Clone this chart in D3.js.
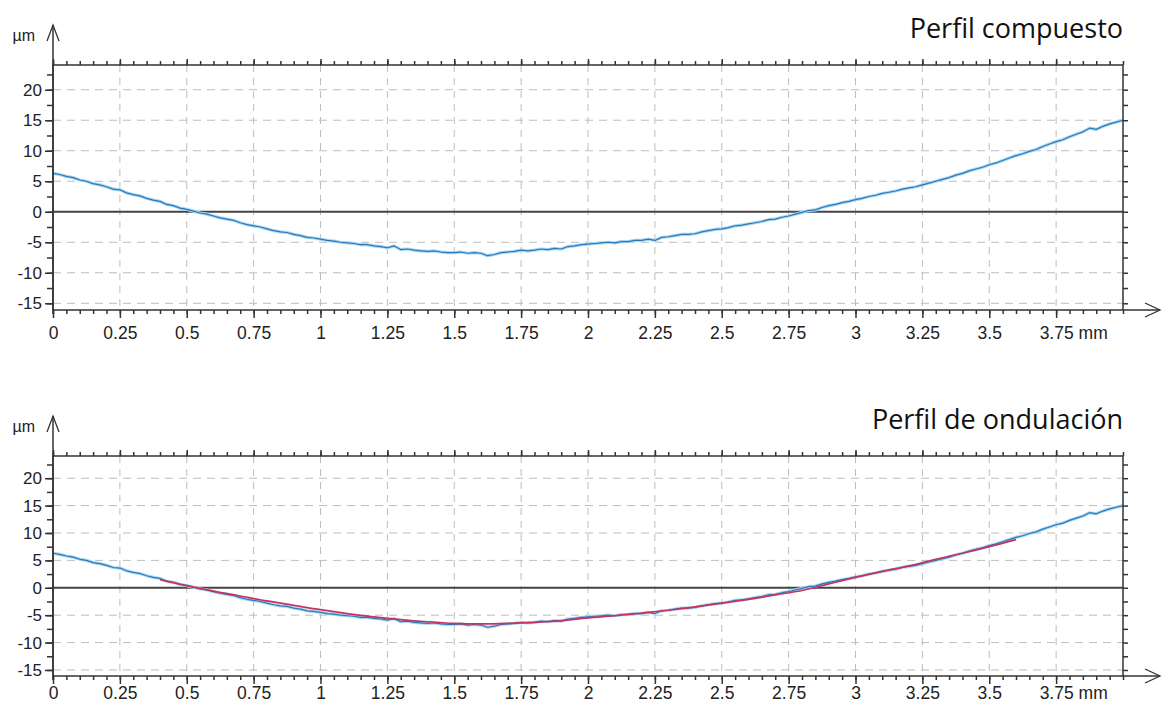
<!DOCTYPE html>
<html>
<head>
<meta charset="utf-8">
<script src="https://cdn.jsdelivr.net/npm/d3@7/dist/d3.min.js"></script>
<style>
  body { margin: 0; background: #fff; }
  svg text { font-family: "Liberation Sans", Arial, sans-serif; fill: #222; }
  svg .title { font-family: "Open Sans", sans-serif; fill: #111; }
</style>
</head>
<body>
<svg id="chart" width="1163" height="705"></svg>
<script>
// profile sampled every 0.025 mm, in µm
var xStep = 0.025;
var profile = [
  6.3, 6.1, 5.8, 5.6, 5.2, 5.0, 4.6, 4.4, 4.1, 3.7,
  3.6, 3.1, 2.8, 2.6, 2.2, 1.9, 1.7, 1.2, 1.0, 0.6,
  0.4, 0.1, -0.2, -0.4, -0.7, -1.0, -1.2, -1.4, -1.8, -2.1,
  -2.3, -2.5, -2.8, -3.1, -3.3, -3.4, -3.7, -3.9, -4.2, -4.3,
  -4.5, -4.7, -4.8, -5.0, -5.1, -5.2, -5.4, -5.4, -5.6, -5.7,
  -5.9, -5.6, -6.2, -6.1, -6.3, -6.4, -6.5, -6.4, -6.6, -6.7,
  -6.7, -6.6, -6.8, -6.7, -6.8, -7.2, -7.0, -6.7, -6.6, -6.5,
  -6.3, -6.4, -6.3, -6.1, -6.2, -6.0, -6.1, -5.7, -5.6, -5.4,
  -5.3, -5.2, -5.1, -5.0, -5.1, -4.9, -4.9, -4.7, -4.7, -4.5,
  -4.7, -4.2, -4.1, -3.9, -3.7, -3.7, -3.6, -3.3, -3.1, -2.9,
  -2.8, -2.6, -2.3, -2.2, -2.0, -1.8, -1.6, -1.3, -1.2, -0.9,
  -0.7, -0.4, -0.1, 0.2, 0.3, 0.7, 1.0, 1.2, 1.5, 1.7,
  2.0, 2.2, 2.5, 2.7, 3.0, 3.2, 3.4, 3.7, 3.9, 4.1,
  4.4, 4.7, 5.0, 5.3, 5.6, 6.0, 6.3, 6.7, 7.0, 7.3,
  7.7, 8.0, 8.4, 8.8, 9.2, 9.5, 9.9, 10.2, 10.7, 11.1,
  11.5, 11.8, 12.3, 12.7, 13.1, 13.7, 13.5, 14.0, 14.4, 14.7,
  15.0
];

// waviness line, every 0.1 mm from 0.4 mm
var waveStart = 0.4;
var waveStep = 0.1;
var waviness = [
  1.5, 0.4, -0.6, -1.5, -2.4, -3.2, -4.0, -4.7, -5.3, -5.8,
  -6.2, -6.5, -6.6, -6.5, -6.3, -6.0, -5.5, -5.1, -4.6, -4.1,
  -3.5, -2.8, -2.1, -1.3, -0.5, 0.7, 1.9, 3.0, 4.0, 5.2,
  6.3, 7.5, 8.8
];

var xTicks = [0, 0.25, 0.5, 0.75, 1, 1.25, 1.5, 1.75, 2, 2.25, 2.5, 2.75, 3, 3.25, 3.5, 3.75];
var yTicks = [-15, -10, -5, 0, 5, 10, 15, 20];
var titles = ["Perfil compuesto", "Perfil de ondulación"];

var svg = d3.select("#chart");
var left = 53, right = 1123;

var x = d3.scaleLinear().domain([0, 4]).range([left, right]);

function createPanel(idx, top, bottom) {
  var y = d3.scaleLinear().domain([-16.1, 24.05]).range([bottom, top]);
  var g = svg.append("g").classed("panel", true);

  // grid
  g.selectAll(".vgrid").data(xTicks.slice(1)).enter().append("line")
    .attr("x1", d => x(d)).attr("x2", d => x(d))
    .attr("y1", top).attr("y2", bottom)
    .attr("stroke", "#bdbdbd").attr("stroke-width", 1)
    .attr("stroke-dasharray", "7,6");
  g.selectAll(".hgrid").data(yTicks.filter(d => d !== 0)).enter().append("line")
    .attr("x1", left).attr("x2", right)
    .attr("y1", d => y(d)).attr("y2", d => y(d))
    .attr("stroke", "#bdbdbd").attr("stroke-width", 1)
    .attr("stroke-dasharray", "8,6");

  // zero line
  g.append("line")
    .attr("x1", left).attr("x2", right)
    .attr("y1", y(0)).attr("y2", y(0))
    .attr("stroke", "#444").attr("stroke-width", 2);

  // clip for the traces
  var clipId = "clip" + idx;
  g.append("clipPath").attr("id", clipId).append("rect")
    .attr("x", left).attr("y", top).attr("width", right - left).attr("height", bottom - top);

  var line = d3.line().x((d, i) => x(i * xStep)).y(d => y(d));
  var traces = g.append("g").attr("clip-path", "url(#" + clipId + ")");
  traces.append("path").datum(profile)
    .attr("fill", "none").attr("stroke", "#a8d8f2").attr("stroke-width", 3.2)
    .attr("stroke-linejoin", "round").attr("d", line);
  traces.append("path").datum(profile)
    .attr("fill", "none").attr("stroke", "#2b78bd").attr("stroke-width", 1.2)
    .attr("stroke-linejoin", "round").attr("d", line);

  if (idx === 1) {
    var wave = d3.line().curve(d3.curveMonotoneX)
      .x((d, i) => x(waveStart + i * waveStep)).y(d => y(d));
    traces.append("path").datum(waviness)
      .attr("fill", "none").attr("stroke", "#c8325f").attr("stroke-width", 1.7)
      .attr("d", wave);
  }

  // tick marks around the frame
  var minorX = d3.range(0, 4.001, 0.05);
  var minorY = d3.range(-15, 24, 2.5);

  g.append("g").attr("transform", "translate(0," + top + ")")
    .call(d3.axisTop(x).tickValues(minorX).tickSize(4).tickFormat(""));
  g.append("g").attr("transform", "translate(0," + top + ")")
    .call(d3.axisTop(x).tickValues(xTicks).tickSize(6).tickFormat(""));

  g.append("g").attr("transform", "translate(0," + bottom + ")")
    .call(d3.axisBottom(x).tickValues(minorX).tickSize(4).tickFormat(""));
  var xAxis = g.append("g").attr("transform", "translate(0," + bottom + ")")
    .call(d3.axisBottom(x).tickValues(xTicks).tickSize(8).tickPadding(idx === 0 ? 9 : 3)
      .tickFormat(d => String(d)));
  xAxis.selectAll("text").attr("font-size", "17.5px")
    .attr("font-family", "Liberation Sans, Arial, sans-serif");
  // unit goes with the last label
  xAxis.selectAll(".tick text").filter(d => d === 3.75)
    .attr("text-anchor", "start").attr("x", -17)
    .append("tspan").text(" mm");

  g.append("g").attr("transform", "translate(" + left + ",0)")
    .call(d3.axisLeft(y).tickValues(minorY).tickSize(6).tickFormat(""));
  var yAxis = g.append("g").attr("transform", "translate(" + left + ",0)")
    .call(d3.axisLeft(y).tickValues(yTicks).tickSize(8).tickPadding(3).tickFormat(d => String(d)));
  yAxis.selectAll("text").attr("font-size", "17px")
    .attr("font-family", "Liberation Sans, Arial, sans-serif");

  g.append("g").attr("transform", "translate(" + right + ",0)")
    .call(d3.axisRight(y).tickValues(minorY).tickSize(5).tickFormat(""));

  g.selectAll(".domain").remove();
  g.selectAll(".tick line").attr("stroke", "#333").attr("stroke-width", 1.5);

  // frame
  g.append("rect")
    .attr("x", left).attr("y", top).attr("width", right - left).attr("height", bottom - top)
    .attr("fill", "none").attr("stroke", "#333").attr("stroke-width", 1.5);

  // axis arrows
  var tipY = top - 40;
  g.append("line").attr("x1", left).attr("x2", left).attr("y1", bottom + 4).attr("y2", tipY)
    .attr("stroke", "#333").attr("stroke-width", 1.5);
  g.append("path")
    .attr("d", "M" + (left - 6) + "," + (tipY + 16) + "L" + left + "," + tipY + "L" + (left + 6) + "," + (tipY + 16))
    .attr("fill", "none").attr("stroke", "#333").attr("stroke-width", 1.3);
  g.append("line").attr("x1", right).attr("x2", 1160).attr("y1", bottom).attr("y2", bottom)
    .attr("stroke", "#333").attr("stroke-width", 1.5);
  g.append("path")
    .attr("d", "M1145," + (bottom - 7) + "L1160," + bottom + "L1145," + (bottom + 7))
    .attr("fill", "none").attr("stroke", "#333").attr("stroke-width", 1.3);

  // labels
  g.append("text").attr("x", 35).attr("y", tipY + 16).attr("text-anchor", "end")
    .attr("font-size", "16px").text("µm");
  g.append("text").classed("title", true)
    .attr("x", right).attr("y", tipY + 13).attr("text-anchor", "end")
    .attr("font-size", "27px").text(titles[idx]);
}

createPanel(0, 65, 310);
createPanel(1, 456, 676);
</script>
</body>
</html>
